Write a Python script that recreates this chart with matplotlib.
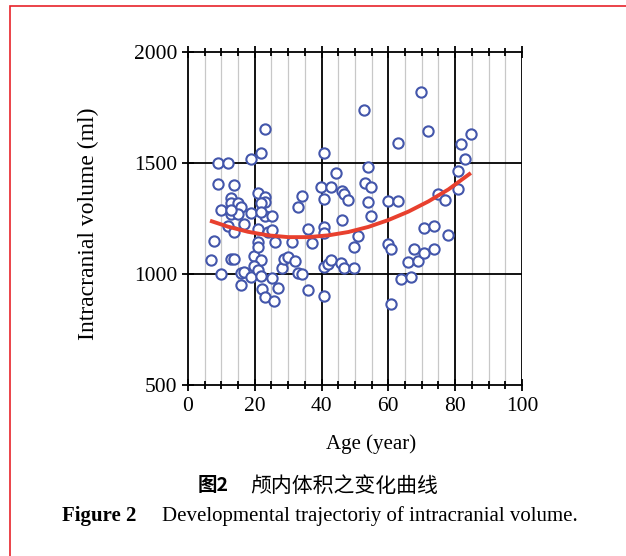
import matplotlib.pyplot as plt
import numpy as np
from matplotlib.patches import Rectangle

plt.rcParams["font.family"] = ["Liberation Serif", "DejaVu Serif"]

# scatter data: age (year), intracranial volume (ml)
ages = [9.1, 12.1, 9.1, 13.9, 18.9, 21.9, 23.1, 20.9, 23.1, 23.1,
        21.9, 12.9, 12.9, 14.9, 15.9, 9.9, 18.9, 12.9, 14.9, 23.1,
        25.1, 11.9, 13.9, 16.9, 21.0, 24.0, 25.1, 7.9, 6.9, 9.9,
        12.9, 13.9, 15.9, 16.9, 18.9, 15.9, 19.9, 20.9, 20.9, 21.9,
        19.9, 20.9, 21.9, 25.1, 22.1, 26.9, 23.1, 25.8, 26.0, 28.1,
        28.8, 30.0, 32.0, 32.8, 34.0, 35.8, 31.0, 35.8, 37.0, 34.0,
        32.8, 40.8, 44.2, 39.8, 42.8, 40.8, 46.0, 46.8, 47.8, 46.0,
        40.8, 40.8, 40.8, 41.8, 42.8, 45.8, 46.8, 49.8, 40.8, 50.8,
        49.8, 54.0, 53.0, 54.8, 53.8, 54.8, 52.8, 59.9, 62.8, 63.0,
        59.8, 60.8, 60.8, 63.8, 66.8, 65.8, 69.0, 67.8, 70.8, 73.8,
        70.8, 73.8, 77.8, 69.9, 71.8, 74.8, 76.9, 80.7, 80.7, 81.7,
        82.9, 84.7, 21.9, 12.9]
volumes = [1501, 1501, 1404, 1399, 1520, 1547, 1651, 1363, 1348, 1323,
           1320, 1344, 1318, 1318, 1303, 1286, 1275, 1270, 1270, 1263,
           1263, 1216, 1190, 1224, 1201, 1190, 1198, 1149, 1063, 999,
           1067, 1067, 1006, 1010, 985, 950, 1081, 1146, 1123, 1063,
           1036, 1018, 991, 980, 931, 935, 895, 878, 1145, 1028,
           1066, 1078, 1058, 1003, 1000, 928, 1145, 1201, 1138, 1353,
           1300, 1544, 1454, 1393, 1393, 1340, 1372, 1360, 1333, 1243,
           1213, 1183, 1033, 1047, 1063, 1048, 1026, 1026, 901, 1171,
           1120, 1480, 1412, 1390, 1324, 1263, 1737, 1328, 1328, 1591,
           1135, 1111, 865, 977, 985, 1053, 1060, 1111, 1096, 1111,
           1205, 1218, 1176, 1818, 1645, 1359, 1333, 1465, 1383, 1584,
           1518, 1629, 1279, 1288]

# trajectory curve
curve_ages = [6.6, 12, 18, 24, 30, 36, 42, 48, 54, 60, 66, 72, 78, 84.7]
curve_vals = [1240, 1213, 1190, 1174, 1166, 1166, 1174, 1189, 1212, 1243,
              1281, 1327, 1381, 1455]

cjk = ["Noto Sans CJK SC", "DejaVu Sans"]

fig = plt.figure(figsize=(6.26, 5.56), dpi=100)
ax = fig.add_axes([0.3003, 0.3076, 0.5335, 0.5989])

# grid: light minor verticals, black majors
for x in np.arange(5, 100, 5):
    if x % 20 == 0:
        ax.axvline(x, color="black", lw=1.3, zorder=1)
    else:
        ax.axvline(x, color="#c8c8c8", lw=0.9, zorder=0.5)
ax.axvline(100, color="black", lw=1.3, zorder=1)
for y in (1000, 1500):
    ax.axhline(y, color="black", lw=1.3, zorder=1)

ax.plot(ages, volumes, linestyle="none", marker="o", markersize=7.4,
        markerfacecolor="white", markeredgecolor="#4356ab",
        markeredgewidth=1.5, zorder=3)
ax.plot(curve_ages, curve_vals, color="#e8402e", lw=2.8,
        solid_capstyle="butt", zorder=4)

ax.set_xlim(0, 100)
ax.set_ylim(500, 2000)
ax.set_xticks(range(0, 101, 20))
ax.set_xticks(range(0, 101, 5), minor=True)
ax.set_yticks(range(500, 2001, 500))

for side in ("top", "bottom", "left"):
    ax.spines[side].set_linewidth(1.3)
ax.spines["right"].set_visible(False)

ax.tick_params(axis="x", which="both", direction="inout", top=True,
               width=1.3, labelsize=15.5, pad=4)
ax.tick_params(axis="x", which="major", length=9)
ax.tick_params(axis="x", which="minor", length=6)
ax.tick_params(axis="y", which="major", direction="inout", length=9,
               width=1.3, labelsize=15.5, pad=3)

fig.text(0.593, 0.201, "Age (year)", fontsize=15, ha="center", va="center")
fig.text(0.141, 0.597, "Intracranial volume (ml)", fontsize=17,
         rotation=90, ha="center", va="center")

fig.text(0.315, 0.126, "图2", fontsize=14, fontweight="bold",
         ha="left", va="center", family=cjk)
fig.text(0.400, 0.126, "颅内体积之变化曲线", fontsize=15,
         ha="left", va="center", family=cjk)
fig.text(0.099, 0.072, "Figure 2", fontsize=15, fontweight="bold",
         ha="left", va="center")
fig.text(0.259, 0.072, "Developmental trajectoriy of intracranial volume.",
         fontsize=15, ha="left", va="center")

# red frame around the figure
fig.patches.append(Rectangle((0.016, -0.05), 1.2, 1.04, transform=fig.transFigure,
                             fill=False, edgecolor="#e8222a", lw=1.2))

fig.savefig("out.png", dpi=100)
